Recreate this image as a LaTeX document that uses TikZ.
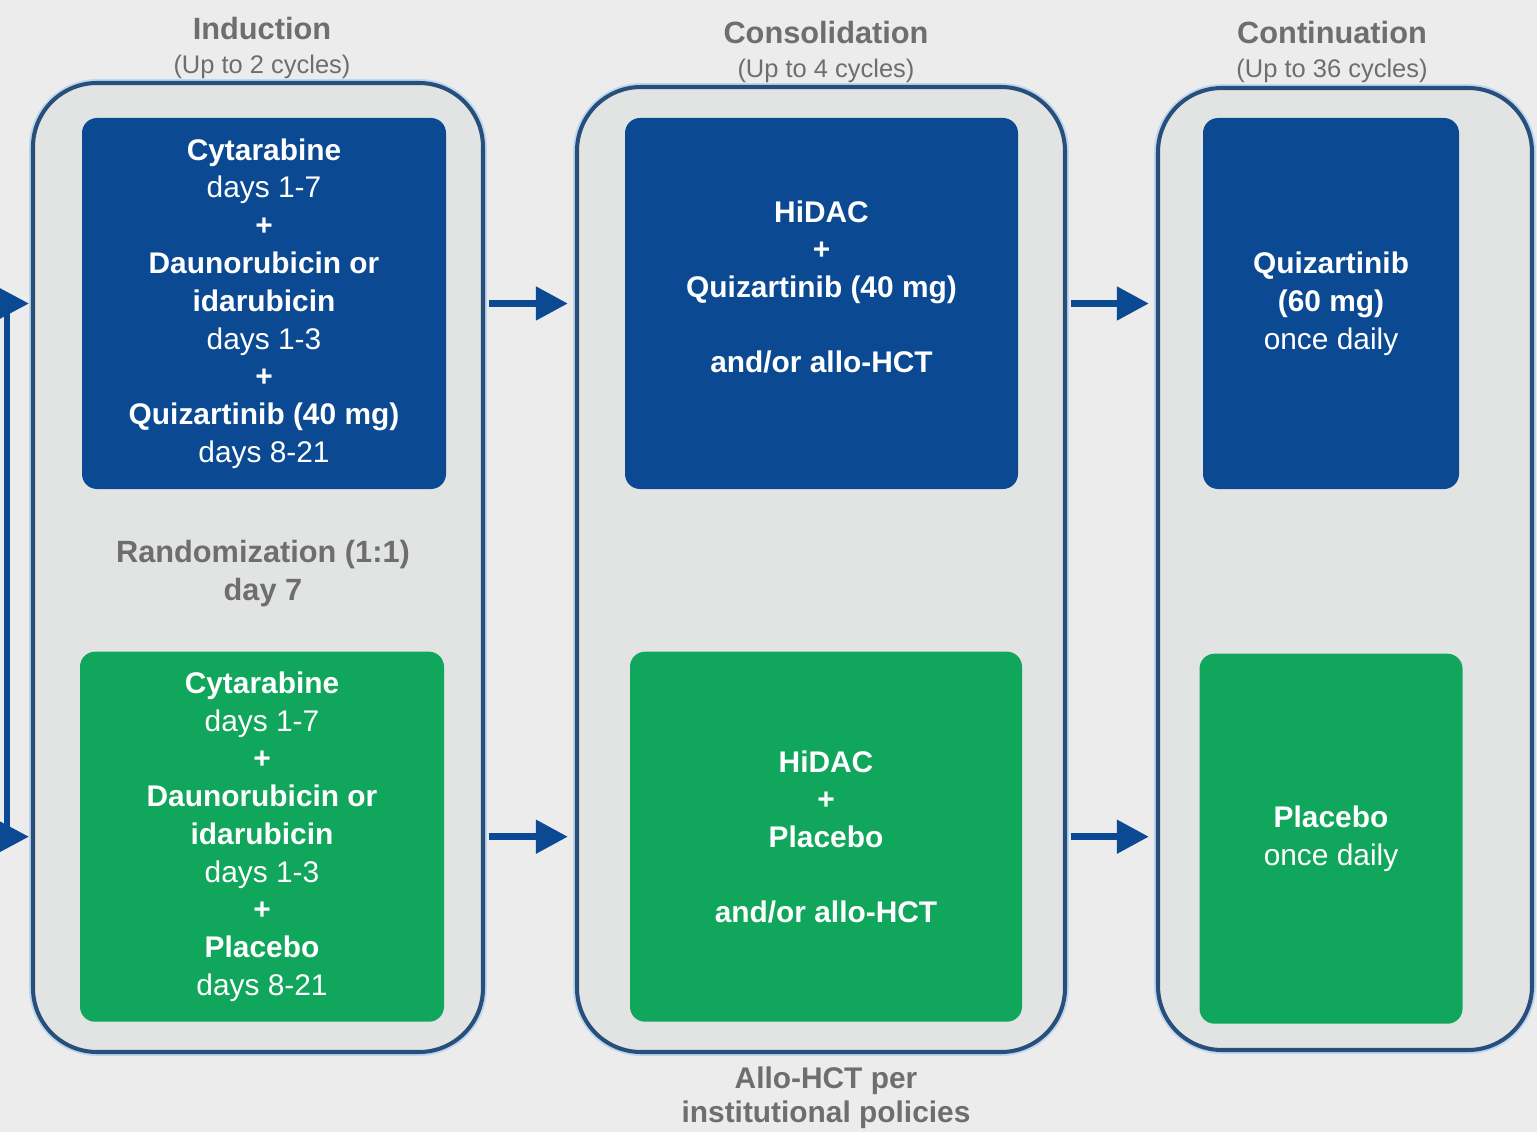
\documentclass[tikz,border=0pt]{standalone}
\usepackage{fontspec}
\setmainfont{Liberation Sans}
\usetikzlibrary{positioning,calc,arrows.meta}
\definecolor{pagegray}{RGB}{236,236,236}
\definecolor{framefill}{RGB}{226,228,227}
\definecolor{frameblue}{RGB}{40,78,122}
\definecolor{haloblue}{RGB}{190,215,240}
\definecolor{armblue}{RGB}{11,74,146}
\definecolor{armgreen}{RGB}{16,166,91}
\definecolor{labelgray}{RGB}{110,110,110}

\newcommand{\dose}[1]{{\mdseries #1}}

\begin{document}
\begin{tikzpicture}[font=\fontsize{17}{21.5}\selectfont,
    phase/.style={rectangle, rounded corners=1.28cm, draw=frameblue, line width=2.3pt, fill=framefill,
      preaction={draw=haloblue, line width=4.5pt}},
    armbox/.style={rectangle, rounded corners=0.3cm, text=white, align=center, font=\fontsize{17}{21.5}\selectfont\bfseries},
    quiz/.style={armbox, fill=armblue, minimum height=7.42cm},
    plac/.style={armbox, fill=armgreen, minimum height=7.4cm},
    head/.style={text=labelgray, align=center, font=\fontsize{17.5}{21.5}\selectfont\bfseries},
    flow/.style={draw=armblue, line width=4.2pt, -{Triangle[length=0.64cm, width=0.64cm]}}]
  \fill[pagegray] (0,0) rectangle (30.74,-22.64);
  \useasboundingbox (0,0) rectangle (30.74,-22.64);

  % the three treatment phases
  \node[phase, minimum width=9.0cm, minimum height=19.38cm] (indframe) at (5.16,-11.35) {};
  \node[phase, minimum width=9.76cm, minimum height=19.3cm] (conframe) at (16.42,-11.39) {};
  \node[phase, minimum width=7.48cm, minimum height=19.24cm] (contframe) at (26.9,-11.38) {};

  \node[head] (indhead) at (5.24,-0.96) {Induction\\[-2pt]{\mdseries\fontsize{14.5}{17}\selectfont (Up to 2 cycles)}};
  \node[head] (conhead) at (16.52,-1.04) {Consolidation\\[-2pt]{\mdseries\fontsize{14.5}{17}\selectfont (Up to 4 cycles)}};
  \node[head] (conthead) at (26.64,-1.04) {Continuation\\[-2pt]{\mdseries\fontsize{14.5}{17}\selectfont (Up to 36 cycles)}};

  % induction
  \node[quiz, minimum width=7.28cm] (indq) at (5.28,-6.07) {Cytarabine\\\dose{days 1-7}\\+\\Daunorubicin or\\idarubicin\\\dose{days 1-3}\\+\\Quizartinib (40 mg)\\\dose{days 8-21}};
  \node[plac, minimum width=7.28cm, below=3.24cm of indq, xshift=-0.04cm] (indp) {Cytarabine\\\dose{days 1-7}\\+\\Daunorubicin or\\idarubicin\\\dose{days 1-3}\\+\\Placebo\\\dose{days 8-21}};
  \node[head] (rand) at ($(indq.south)!0.5!(indp.north)+(0,-0.06)$) {Randomization (1:1)\\day 7};

  % consolidation
  \node[quiz, minimum width=7.86cm] (conq) at (16.43,-6.07) {HiDAC\\+\\Quizartinib (40 mg)\\[21pt]and/or allo-HCT\\[-2pt]\mbox{}};
  \node[plac, minimum width=7.84cm, below=3.24cm of conq, xshift=0.09cm] (conp) {HiDAC\\+\\Placebo\\[21pt]and/or allo-HCT};
  \node[head, font=\fontsize{17}{19.5}\selectfont\bfseries] (allo) at (16.52,-21.96) {Allo-HCT per\\institutional policies};

  % continuation
  \node[quiz, minimum width=5.12cm] (contq) at (26.62,-6.07) {Quizartinib\\(60 mg)\\\dose{once daily}};
  \node[plac, minimum width=5.26cm, below=3.28cm of contq] (contp) {Placebo\\\dose{once daily}};

  % arrows between phases
  \draw[flow, shorten <=2pt, shorten >=0.14cm] (indframe.east |- indq) -- (conframe.west |- indq);
  \draw[flow, shorten <=2pt, shorten >=0.14cm] (indframe.east |- indp) -- (conframe.west |- indp);
  \draw[flow, shorten <=2pt, shorten >=0.14cm] (conframe.east |- conq) -- (contframe.west |- conq);
  \draw[flow, shorten <=2pt, shorten >=0.14cm] (conframe.east |- conp) -- (contframe.west |- conp);

  % split into the two arms
  \coordinate (fork) at (0.14,-11.3);
  \draw[flow, line width=3.6pt, shorten >=0.04cm] (fork) |- (indframe.west |- indq);
  \draw[flow, line width=3.6pt, shorten >=0.04cm] (fork) |- (indframe.west |- indp);
\end{tikzpicture}
\end{document}
